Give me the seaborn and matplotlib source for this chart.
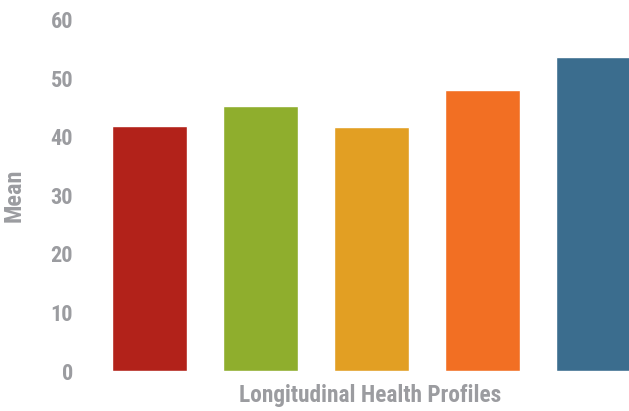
import matplotlib
matplotlib.use("Agg")
import matplotlib.pyplot as plt
import seaborn as sns
import pandas as pd

categories = ["A", "B", "C", "D", "E"]
means = [41.8, 45.2, 41.6, 48.0, 53.6]
colors = ["#b2221a", "#8fae2d", "#e29f23", "#f26f23", "#3b6d8e"]
yticks = [0, 10, 20, 30, 40, 50, 60]

sns.set_theme(style="white")
FAM = ["Roboto Condensed", "Barlow Condensed", "DejaVu Sans"]
plt.rcParams["font.family"] = FAM
gray = "#9b9ca0"

df = pd.DataFrame({"cat": categories, "mean": means})
fig = plt.figure(figsize=(6.29, 4.11), dpi=100)
W, H = 629, 411
ax = fig.add_axes([94 / W, 40 / H, 535 / W, 351.5 / H])
sns.barplot(data=df, x="cat", y="mean", hue="cat", palette=colors,
            legend=False, width=0.675, saturation=1, ax=ax)
ax.set_xlim(-0.5, -0.5 + 535 / 111)
ax.set_ylim(0, 60)
ax.set_yticks(yticks)
ax.set_yticklabels([str(t) for t in yticks], fontsize=16, fontweight="bold", color=gray)
ax.tick_params(axis="y", length=0, pad=15)
ax.set_xticks([])
for s in ax.spines.values():
    s.set_visible(False)
ax.set_ylabel("Mean", fontsize=17.5, fontweight="bold", color=gray)
ax.yaxis.set_label_coords((26 - 94) / 535, (371 - 195) / 351.5)
ax.set_xlabel("Longitudinal Health Profiles", fontsize=16.8, fontweight="bold", color=gray)
ax.xaxis.set_label_coords((370 - 94) / 535, -13 / 351.5)
fig.savefig("out.png", dpi=100)
